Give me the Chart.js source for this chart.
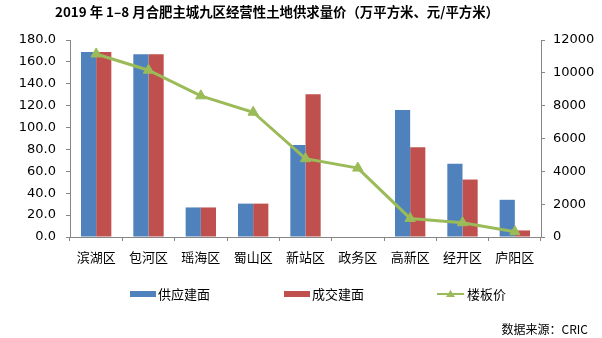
<!DOCTYPE html>
<html lang="zh-CN">
<head>
<meta charset="UTF-8">
<title>2019年1-8月合肥主城九区经营性土地供求量价</title>
<script src="https://cdn.jsdelivr.net/npm/chart.js"></script>
<style>
  html, body { margin: 0; padding: 0; background: #fff; }
  #wrap { width: 602px; height: 338px; }
</style>
</head>
<body>
<div id="wrap"><canvas id="chart" width="602" height="338"></canvas></div>
<script>
  // 九区：供应/成交建面（万平方米）与楼板价（元/平方米）
  const districts = ['滨湖区', '包河区', '瑶海区', '蜀山区', '新站区', '政务区', '高新区', '经开区', '庐阳区'];
  const supplyArea = [169.0, 167.0, 27.0, 30.5, 84.0, 0, 116.0, 67.0, 34.0];
  const dealArea   = [169.0, 167.0, 27.0, 30.5, 130.5, 0, 82.0, 52.5, 6.0];
  const floorPrice = [11150, 10160, 8600, 7600, 4770, 4200, 1130, 870, 320];

  const areaTicks = { min: 0, max: 180, step: 20 };
  const priceTicks = { min: 0, max: 12000, step: 2000 };

  const BLUE = '#4F81BD', RED = '#C0504D', GREEN = '#9BBB59', AXIS = '#868686';
  const numFont = { family: 'DejaVu Sans', size: 13 };
  const cjkFont = '"Noto Sans CJK SC", sans-serif';

  // title, legend and source note drawn straight onto the canvas
  const decorations = {
    id: 'decorations',
    afterDraw(chart) {
      const ctx = chart.ctx;
      ctx.save();
      ctx.fillStyle = '#000';
      ctx.textBaseline = 'middle';
      ctx.textAlign = 'center';
      ctx.font = 'bold 13.4px ' + cjkFont;
      ctx.fillText('2019 年 1–8 月合肥主城九区经营性土地供求量价（万平方米、元/平方米）', 277, 12);

      ctx.textAlign = 'left';
      ctx.font = '13px ' + cjkFont;
      const items = [
        { x: 130, color: BLUE, type: 'bar', label: '供应建面' },
        { x: 284, color: RED, type: 'bar', label: '成交建面' },
        { x: 437, color: GREEN, type: 'line', label: '楼板价' }
      ];
      const ly = 294;
      items.forEach(it => {
        if (it.type === 'bar') {
          ctx.fillStyle = it.color;
          ctx.fillRect(it.x, ly - 3, 26, 6);
        } else {
          ctx.strokeStyle = it.color;
          ctx.lineWidth = 2;
          ctx.beginPath();
          ctx.moveTo(it.x, ly);
          ctx.lineTo(it.x + 27, ly);
          ctx.stroke();
          ctx.fillStyle = it.color;
          ctx.beginPath();
          ctx.moveTo(it.x + 13.5, ly - 4);
          ctx.lineTo(it.x + 18, ly + 3);
          ctx.lineTo(it.x + 9, ly + 3);
          ctx.closePath();
          ctx.fill();
        }
        ctx.fillStyle = '#000';
        ctx.fillText(it.label, it.x + (it.type === 'bar' ? 28 : 30), ly);
      });

      ctx.font = '12px ' + cjkFont;
      ctx.textAlign = 'right';
      ctx.fillText('数据来源：CRIC', 588, 329);
      ctx.restore();
    }
  };

  const axisGrid = { display: true, drawOnChartArea: false, drawTicks: true, tickLength: 4, color: AXIS };
  const axisBorder = { display: true, color: AXIS, width: 1 };

  new Chart(document.getElementById('chart'), {
    type: 'bar',
    data: {
      labels: districts,
      datasets: [
        {
          type: 'line', label: '楼板价', data: floorPrice, yAxisID: 'y1', order: 0,
          borderColor: GREEN, backgroundColor: GREEN, borderWidth: 3,
          pointStyle: 'triangle', pointRadius: 6, pointBorderWidth: 1,
          pointBackgroundColor: GREEN, pointBorderColor: GREEN, tension: 0
        },
        { label: '供应建面', data: supplyArea, backgroundColor: BLUE, yAxisID: 'y', order: 1 },
        { label: '成交建面', data: dealArea, backgroundColor: RED, yAxisID: 'y', order: 1 }
      ]
    },
    options: {
      responsive: false,
      animation: false,
      layout: { padding: { top: 40, left: 0, right: 0, bottom: 0 } },
      datasets: { bar: { categoryPercentage: 0.58, barPercentage: 1.0 } },
      plugins: { legend: { display: false }, tooltip: { enabled: false } },
      scales: {
        x: {
          grid: axisGrid, border: axisBorder,
          ticks: { color: '#000', font: { family: cjkFont, size: 13 }, padding: 8, maxRotation: 0 },
          afterFit: s => { s.height = 101; }
        },
        y: {
          position: 'left', min: areaTicks.min, max: areaTicks.max,
          grid: axisGrid, border: axisBorder,
          ticks: { stepSize: areaTicks.step, color: '#000', font: numFont, padding: 10,
                   callback: v => Number(v).toFixed(1) },
          afterFit: s => { s.width = 70; }
        },
        y1: {
          position: 'right', min: priceTicks.min, max: priceTicks.max,
          grid: axisGrid, border: axisBorder,
          ticks: { stepSize: priceTicks.step, color: '#000', font: numFont, padding: 8,
                   callback: v => String(v) },
          afterFit: s => { s.width = 61; }
        }
      }
    },
    plugins: [decorations]
  });
</script>
</body>
</html>
